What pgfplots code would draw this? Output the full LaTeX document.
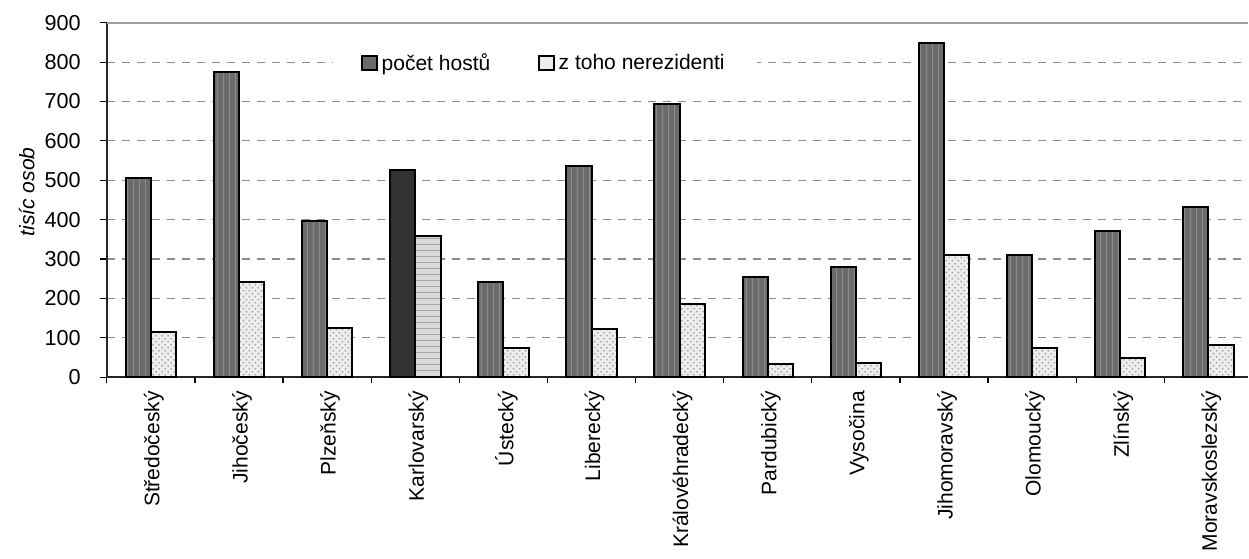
\documentclass[border=0pt]{standalone}
\usepackage{pgfplots}
\pgfplotsset{compat=1.18}
\usepackage{pgfplotstable}
\usepackage{fontspec}
\setmainfont{Liberation Sans}
\usetikzlibrary{patterns}
\definecolor{mainfill}{HTML}{6B6B6B}
\definecolor{secfill}{HTML}{EDEDED}
\definecolor{karlA}{HTML}{333333}
\definecolor{karlB}{HTML}{DADADA}
\definecolor{gridc}{HTML}{8C8C8C}
\pgfplotsset{sqlegend/.style={legend image code/.code={\draw[##1] (0pt,-3.6pt) rectangle (7.2pt,3.6pt);}}}

\pgfplotstableread{
x A B
0 505 115
1 776 241
2 397 126
4 242 75
5 535 122
6 693 185
7 255 34
8 280 37
9 848 309
10 310 74
11 372 48
12 431 82
}\datatable

\begin{document}
\begin{tikzpicture}[font=\fontsize{10.5}{12.6}\selectfont]
\begin{axis}[
  name=ax,
  scale only axis,
  width=569.8pt, height=177pt,
  xmin=-0.5, xmax=12.45,
  ymin=0, ymax=900,
  axis lines=left,
  axis line style={-, black!85, line width=0.9pt},
  tick align=outside,
  major tick length=3.5pt,
  minor tick length=3pt,
  xtick={0,...,12},
  xticklabels={Středočeský,Jihočeský,Plzeňský,Karlovarský,Ústecký,Liberecký,Královéhradecký,Pardubický,Vysočina,Jihomoravský,Olomoucký,Zlínský,Moravskoslezský},
  xtick style={draw=none},
  minor xtick={-0.5,0.5,...,11.5},
  minor x tick style={draw=black, line width=0.6pt},
  xticklabel style={rotate=90, anchor=east, yshift=-1.5pt},
  ytick={0,100,...,800},
  ytick style={black, line width=0.6pt},
  yticklabel style={xshift=-6pt, font=\fontsize{10.8}{12.6}\selectfont},
  extra y ticks={900},
  extra y tick style={grid=major, major grid style={solid, draw=gray!75, line width=1pt}},
  ymajorgrids,
  major grid style={gridc, line width=0.55pt, dash pattern=on 4pt off 3.5pt},
  /pgf/number format/assume math mode=true,
  ylabel={\itshape tisíc osob},
  ylabel style={at={(axis description cs:-0.0702,0.523)}, anchor=center, rotate=0},
  ybar,
  bar width=12.6pt,
  legend columns=2,
  legend style={at={(axis description cs:0.384,0.886)}, anchor=center, draw=none, fill=white,
    inner xsep=14pt, inner ysep=3pt, font=\fontsize{10.5}{12.6}\selectfont},
  legend cell align=left,
  /tikz/every even column/.append style={column sep=22pt},
  clip=false,
]
\addlegendimage{fill=mainfill, draw=black, line width=0.9pt, sqlegend}
\addlegendentry{počet hostů}
\addlegendimage{fill=secfill, draw=black, line width=0.9pt, sqlegend}
\addlegendentry{z toho nerezidenti}

\addplot[forget plot, bar shift=-6.3pt, draw=black, line width=1pt, fill=mainfill,
  postaction={pattern=vertical lines, pattern color=black!45}] table[x=x, y=A] {\datatable};
\addplot[forget plot, bar shift=6.3pt, draw=black, line width=1pt, fill=secfill,
  postaction={pattern=crosshatch dots, pattern color=gray!70}] table[x=x, y=B] {\datatable};
\addplot[forget plot, bar shift=-6.3pt, draw=black, line width=1pt, fill=karlA] coordinates {(3,527)};
\addplot[forget plot, bar shift=6.3pt, draw=black, line width=1pt, fill=karlB,
  postaction={pattern=horizontal lines, pattern color=gray!70}] coordinates {(3,359)};
\end{axis}
\path ([xshift=-53.35pt, yshift=11.35pt]ax.north west);
\path ([yshift=-89pt]ax.south east);
\end{tikzpicture}
\end{document}
